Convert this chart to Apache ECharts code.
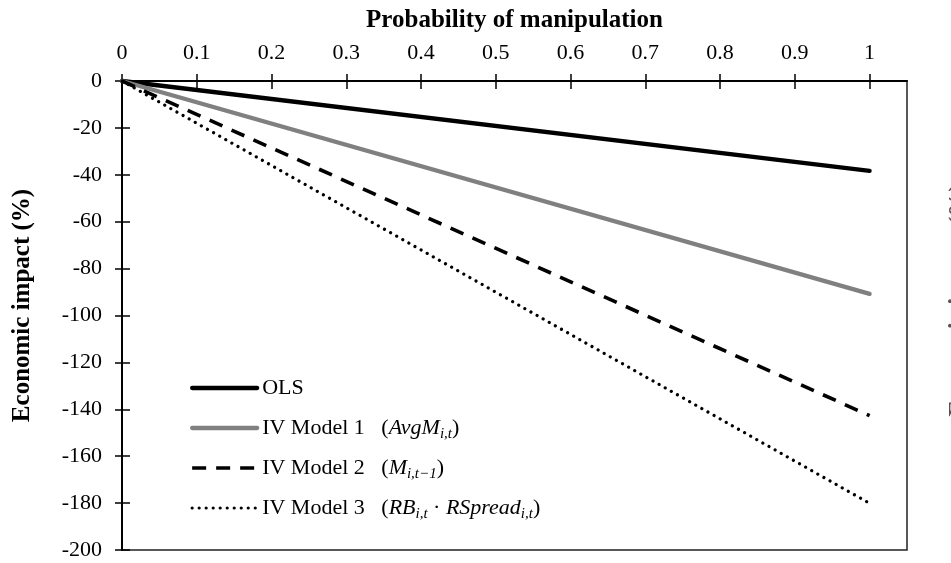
<!DOCTYPE html>
<html>
<head>
<meta charset="utf-8">
<title>Economic impact by probability of manipulation</title>
<script src="https://cdn.jsdelivr.net/npm/echarts@6/dist/echarts.min.js"></script>
<style>
  html, body { margin: 0; padding: 0; background: #fff; }
  #chart { width: 951px; height: 563px; }
</style>
</head>
<body>
<div id="chart"></div>
<script>
// Probability of manipulation (x) and economic impact in percent (y) per estimator
const probability = [0, 1];
const olsImpact = [0, -38.3];
const ivModel1Impact = [0, -90.8];
const ivModel2Impact = [0, -142.7];
const ivModel3Impact = [0, -180.1];

// Tick labels on the probability axis
const probabilityTicks = [0, 0.1, 0.2, 0.3, 0.4, 0.5, 0.6, 0.7, 0.8, 0.9, 1];
const seriesNames = ['OLS', 'IV Model 1', 'IV Model 2', 'IV Model 3'];

const serif = 'Liberation Serif, Times New Roman, serif';

const toPoints = (ys) => probability.map((p, i) => [p, ys[i]]);

// Legend labels with the instrument written in math style
// (the OLS label carries an empty subscript slot so every row has the same height)
const legendLabels = {
  'OLS': '{n|OLS}{s| }',
  'IV Model 1': '{n|IV Model 1   (}{m|AvgM}{s|i,t}{n|)}',
  'IV Model 2': '{n|IV Model 2   (}{m|M}{s|i,t\u22121}{n|)}',
  'IV Model 3': '{n|IV Model 3   (}{m|RB}{s|i,t}{n| \u00b7 }{m|RSpread}{s|i,t}{n|)}'
};

// Line styles shared by each series and its legend sample
const lineStyles = {
  'OLS': { color: '#000', width: 4.3, cap: 'round' },
  'IV Model 1': { color: '#808080', width: 4.3, cap: 'round' },
  'IV Model 2': { color: '#000', width: 3.6, type: [14, 10], cap: 'butt' },
  'IV Model 3': { color: '#000', width: 3.2, type: [0.01, 7], cap: 'round' }
};

const xRange = { min: 0, max: 1.05 };
const yRange = { min: -200, max: 0, interval: 20 };

const chart = echarts.init(document.getElementById('chart'), null, { renderer: 'canvas' });

const option = {
  backgroundColor: '#fff',
  animation: false,
  grid: {
    left: 122, top: 81, right: 44, bottom: 13,
    show: true, borderColor: '#222', borderWidth: 1.5,
    containLabel: false
  },
  xAxis: [
    {
      type: 'value', position: 'top', ...xRange,
      name: 'Probability of manipulation',
      nameLocation: 'middle', nameGap: 48,
      nameTextStyle: { fontFamily: serif, fontWeight: 'bold', fontSize: 25, color: '#000' },
      axisLine: { show: true, onZero: false, lineStyle: { color: '#000', width: 2 } },
      axisTick: { show: true, inside: false, length: 7, customValues: probabilityTicks, lineStyle: { color: '#000', width: 1.5 } },
      axisLabel: { show: true, customValues: probabilityTicks, margin: 17, fontFamily: serif, fontSize: 22, color: '#000' },
      splitLine: { show: false }
    },
    {
      type: 'value', position: 'top', ...xRange,
      axisLine: { show: false, onZero: false },
      axisTick: { show: true, inside: true, length: 8, customValues: probabilityTicks, lineStyle: { color: '#000', width: 1.5 } },
      axisLabel: { show: false },
      splitLine: { show: false }
    }
  ],
  yAxis: [
    {
      type: 'value', position: 'left', ...yRange,
      name: 'Economic impact (%)',
      nameLocation: 'middle', nameGap: 87,
      nameTextStyle: { fontFamily: serif, fontWeight: 'bold', fontSize: 25, color: '#000', padding: [0, 0, 0, 20] },
      axisLine: { show: true, onZero: false, lineStyle: { color: '#000', width: 2 } },
      axisTick: { show: true, inside: false, length: 7, lineStyle: { color: '#000', width: 1.5 } },
      axisLabel: { show: true, margin: 20, fontFamily: serif, fontSize: 22, color: '#000' },
      splitLine: { show: false }
    },
    {
      type: 'value', position: 'left', ...yRange,
      axisLine: { show: false, onZero: false },
      axisTick: { show: true, inside: true, length: 8, lineStyle: { color: '#000', width: 1.5 } },
      axisLabel: { show: false },
      splitLine: { show: false }
    }
  ],
  legend: {
    data: seriesNames.map((name) => ({ name, lineStyle: lineStyles[name] })),
    orient: 'vertical',
    left: 190, top: 376, padding: 0,
    itemWidth: 65, itemHeight: 30, itemGap: 14,
    itemStyle: { opacity: 0 },
    selectedMode: false,
    formatter: (name) => legendLabels[name],
    textStyle: {
      color: '#000',
      rich: {
        n: { fontFamily: serif, fontSize: 22, lineHeight: 28, color: '#000' },
        m: { fontFamily: serif, fontStyle: 'italic', fontSize: 22, lineHeight: 28, color: '#000' },
        s: { fontFamily: serif, fontStyle: 'italic', fontSize: 15, lineHeight: 12, verticalAlign: 'bottom', color: '#000' }
      }
    }
  },
  graphic: [
    {
      type: 'text', x: 960, y: 300, rotation: Math.PI / 2, silent: true,
      style: {
        text: 'Economic impact (%)', fill: '#555',
        font: 'bold 25px ' + serif, align: 'center', verticalAlign: 'middle'
      }
    }
  ],
  series: seriesNames.map((name, i) => ({
    name, type: 'line',
    data: toPoints([olsImpact, ivModel1Impact, ivModel2Impact, ivModel3Impact][i]),
    symbol: 'none', clip: false,
    lineStyle: lineStyles[name]
  }))
};

chart.setOption(option);
</script>
</body>
</html>
